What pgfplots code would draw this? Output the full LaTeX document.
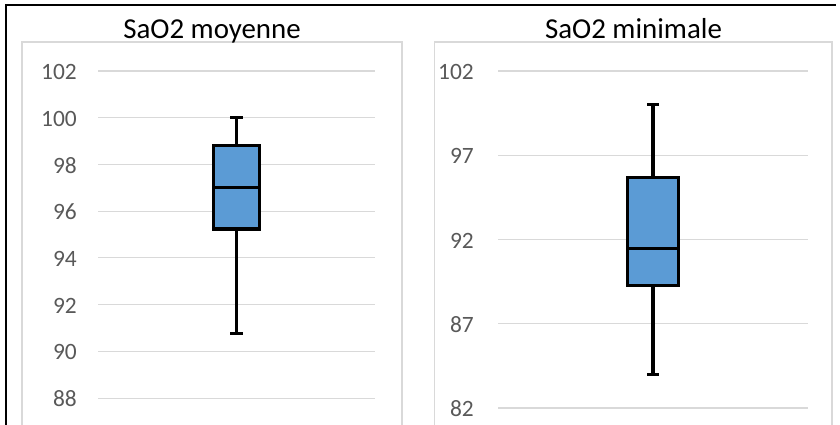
\documentclass[border=0pt]{standalone}
\usepackage{pgfplots}
\pgfplotsset{compat=1.18}
\usepackage{fontspec}
\setmainfont{Carlito}
\definecolor{boxblue}{HTML}{5B9BD5}
\definecolor{gridgray}{HTML}{D9D9D9}
\definecolor{framegray}{HTML}{D9D9D9}
\definecolor{ticktext}{HTML}{595959}
\begin{document}
\begin{tikzpicture}
\useasboundingbox (0bp,0bp) rectangle (840bp,425bp);
\clip (0bp,0bp) rectangle (840bp,425bp);
\pgfplotsset{
  panel/.style={
    scale only axis,
    anchor=north west,
    xmin=0, xmax=2,
    xtick=\empty,
    axis line style={draw=none},
    major tick length=0pt,
    ymajorgrids,
    grid style={draw=gridgray, line width=1.1bp},
    /pgf/number format/assume math mode=true,
    ticklabel style={font=\fontsize{23.5}{26}\selectfont, text=ticktext},
    yticklabel style={inner sep=0pt, anchor=east, yshift=-1bp},
    clip=false,
  },
  bx/.style={draw=black, line width=3.3bp, solid, mark=none, line cap=rect, line join=miter},
}
% frames
\draw[framegray, line width=1.6bp] (22bp,-10bp) -- (22bp,383bp) -- (402bp,383bp) -- (402bp,-10bp);
\draw[framegray, line width=1.6bp] (434.5bp,-10bp) -- (434.5bp,383bp) -- (832bp,383bp) -- (832bp,-10bp);
\draw[black, line width=2.2bp] (6bp,-10bp) -- (6bp,419.7bp) -- (836bp,419.7bp);
% titles
\node[anchor=base, inner sep=0pt, font=\fontsize{29}{34}\selectfont] at (212bp,386.7bp) {SaO2 moyenne};
\node[anchor=base, inner sep=0pt, font=\fontsize{29}{34}\selectfont] at (633.5bp,386.7bp) {SaO2 minimale};
% left panel: min 90.77, q1 95.24, median 97, q3 98.8, max 100
\begin{axis}[panel, at={(98bp,354bp)}, width=277bp, height=373.8bp,
  ymin=86, ymax=102, ytick={88,90,92,94,96,98,100,102},
  yticklabel style={xshift=-21bp}]
\addplot[bx, line cap=butt] coordinates {(1,98.8) (1,100)};
\addplot[bx, line cap=butt] coordinates {(1,95.24) (1,90.77)};
\addplot[bx, line cap=butt] coordinates {(0.9565,100) (1.0435,100)};
\addplot[bx, line cap=butt] coordinates {(0.9565,90.77) (1.0435,90.77)};
\addplot[bx, fill=boxblue] coordinates {(0.8315,95.24) (1.1685,95.24) (1.1685,98.8) (0.8315,98.8) (0.8315,95.24)};
\addplot[bx, line cap=butt] coordinates {(0.8315,97) (1.1685,97)};
\end{axis}
% right panel: min 84, q1 89.26, median 91.48, q3 95.7, max 100
\begin{axis}[panel, at={(498bp,354bp)}, width=310bp, height=370.7bp,
  ymin=80, ymax=102, ytick={82,87,92,97,102},
  yticklabel style={xshift=-24bp}]
\addplot[bx, line cap=butt] coordinates {(1,95.7) (1,100)};
\addplot[bx, line cap=butt] coordinates {(1,89.26) (1,84)};
\addplot[bx, line cap=butt] coordinates {(0.9615,100) (1.0385,100)};
\addplot[bx, line cap=butt] coordinates {(0.9615,84) (1.0385,84)};
\addplot[bx, fill=boxblue] coordinates {(0.8335,89.26) (1.1665,89.26) (1.1665,95.7) (0.8335,95.7) (0.8335,89.26)};
\addplot[bx, line cap=butt] coordinates {(0.8335,91.48) (1.1665,91.48)};
\end{axis}
\end{tikzpicture}
\end{document}
